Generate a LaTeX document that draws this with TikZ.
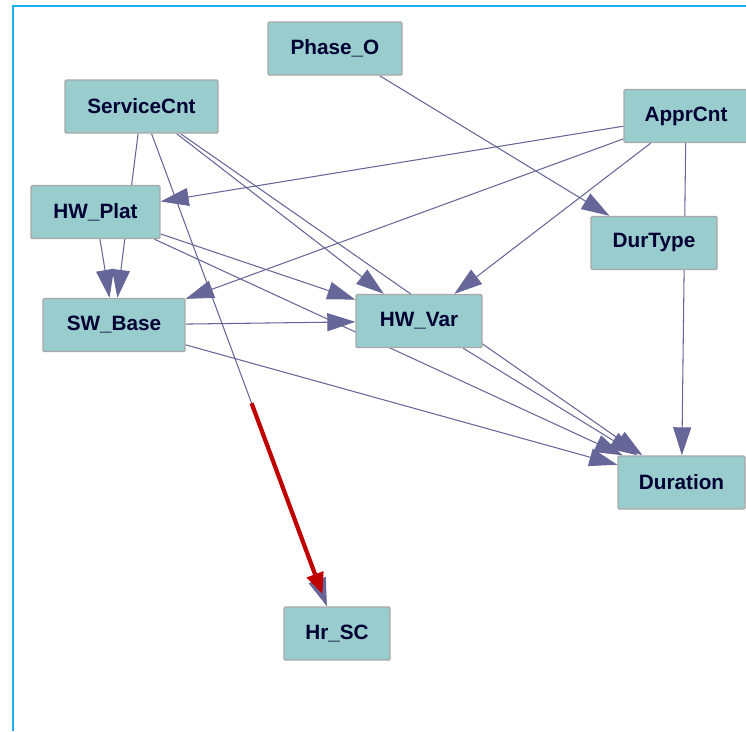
\documentclass[tikz,border=0pt]{standalone}
\usepackage{fontspec}
\setmainfont{Liberation Sans}
\usetikzlibrary{arrows.meta,calc,backgrounds}

\definecolor{nodefill}{HTML}{99CCCC}
\definecolor{nodeline}{HTML}{A8A8A8}
\definecolor{edgecol}{HTML}{666699}
\definecolor{textcol}{HTML}{000033}
\definecolor{framecol}{HTML}{1AAFEF}
\definecolor{hilite}{HTML}{C00000}

\begin{document}
\begin{tikzpicture}[x=0.02cm, y=-0.02cm,
  var/.style={draw=nodeline, line width=0.8pt, fill=nodefill, rounded corners=0.7pt,
    minimum height=1.06cm, inner sep=0pt, text=textcol,
    font=\fontsize{11.8}{14}\selectfont\bfseries},
  edge/.style={draw=edgecol, line width=0.6pt,
    -{Triangle[length=0.56cm, width=0.36cm]}},
  ]
  \useasboundingbox (0,0) rectangle (746,731);
  % Frame
  \draw[framecol, line width=1.2pt] (746,6) -- (13,6) -- (13,731);
  % Nodes
  \node[var, minimum width=2.68cm] (phase)    at (335,48.5)   {Phase\_O};
  \node[var, minimum width=3.06cm] (svc)      at (141.5,106.5) {ServiceCnt};
  \node[var, minimum width=2.48cm] (appr)     at (686,116)    {ApprCnt};
  \node[var, minimum width=2.58cm] (hwplat)   at (95.5,212)   {HW\_Plat};
  \node[var, minimum width=2.52cm] (durtype)  at (654,243)    {DurType};
  \node[var, minimum width=2.84cm] (swbase)   at (114,325)    {SW\_Base};
  \node[var, minimum width=2.52cm] (hwvar)    at (419,321)    {HW\_Var};
  \node[var, minimum width=2.54cm] (duration) at (681.5,482.5) {Duration};
  \node[var, minimum width=2.12cm] (hrsc)     at (337,633.5)  {Hr\_SC};
  % Edges (behind the nodes)
  \begin{scope}[on background layer]
    \draw[edge] (svc) -- (swbase);
    \draw[edge] (svc) -- (hrsc);
    \draw[edge] (svc) -- (hwvar);
    \draw[edge] (svc) -- (duration);
    \draw[edge] (appr) -- (hwplat);
    \draw[edge] (appr) -- (swbase);
    \draw[edge] (appr) -- (hwvar);
    \draw[edge] (appr) -- (duration);
    \draw[edge] (phase) -- (durtype);
    \draw[edge] (hwplat) -- (swbase);
    \draw[edge] (hwplat) -- (hwvar);
    \draw[edge] (hwplat) -- (duration);
    \draw[edge] (swbase) -- (hwvar);
    \draw[edge] (swbase) -- (duration);
    \draw[edge] (hwvar) -- (duration);
  \end{scope}
  % Highlighted link
  \coordinate (redA) at ($(svc)!0.563!(hrsc)$);
  \coordinate (redB) at ($(svc)!0.925!(hrsc)$);
  \draw[hilite, line width=2.4pt, -{Triangle[length=0.42cm, width=0.34cm]}] (redA) -- (redB);
\end{tikzpicture}
\end{document}
